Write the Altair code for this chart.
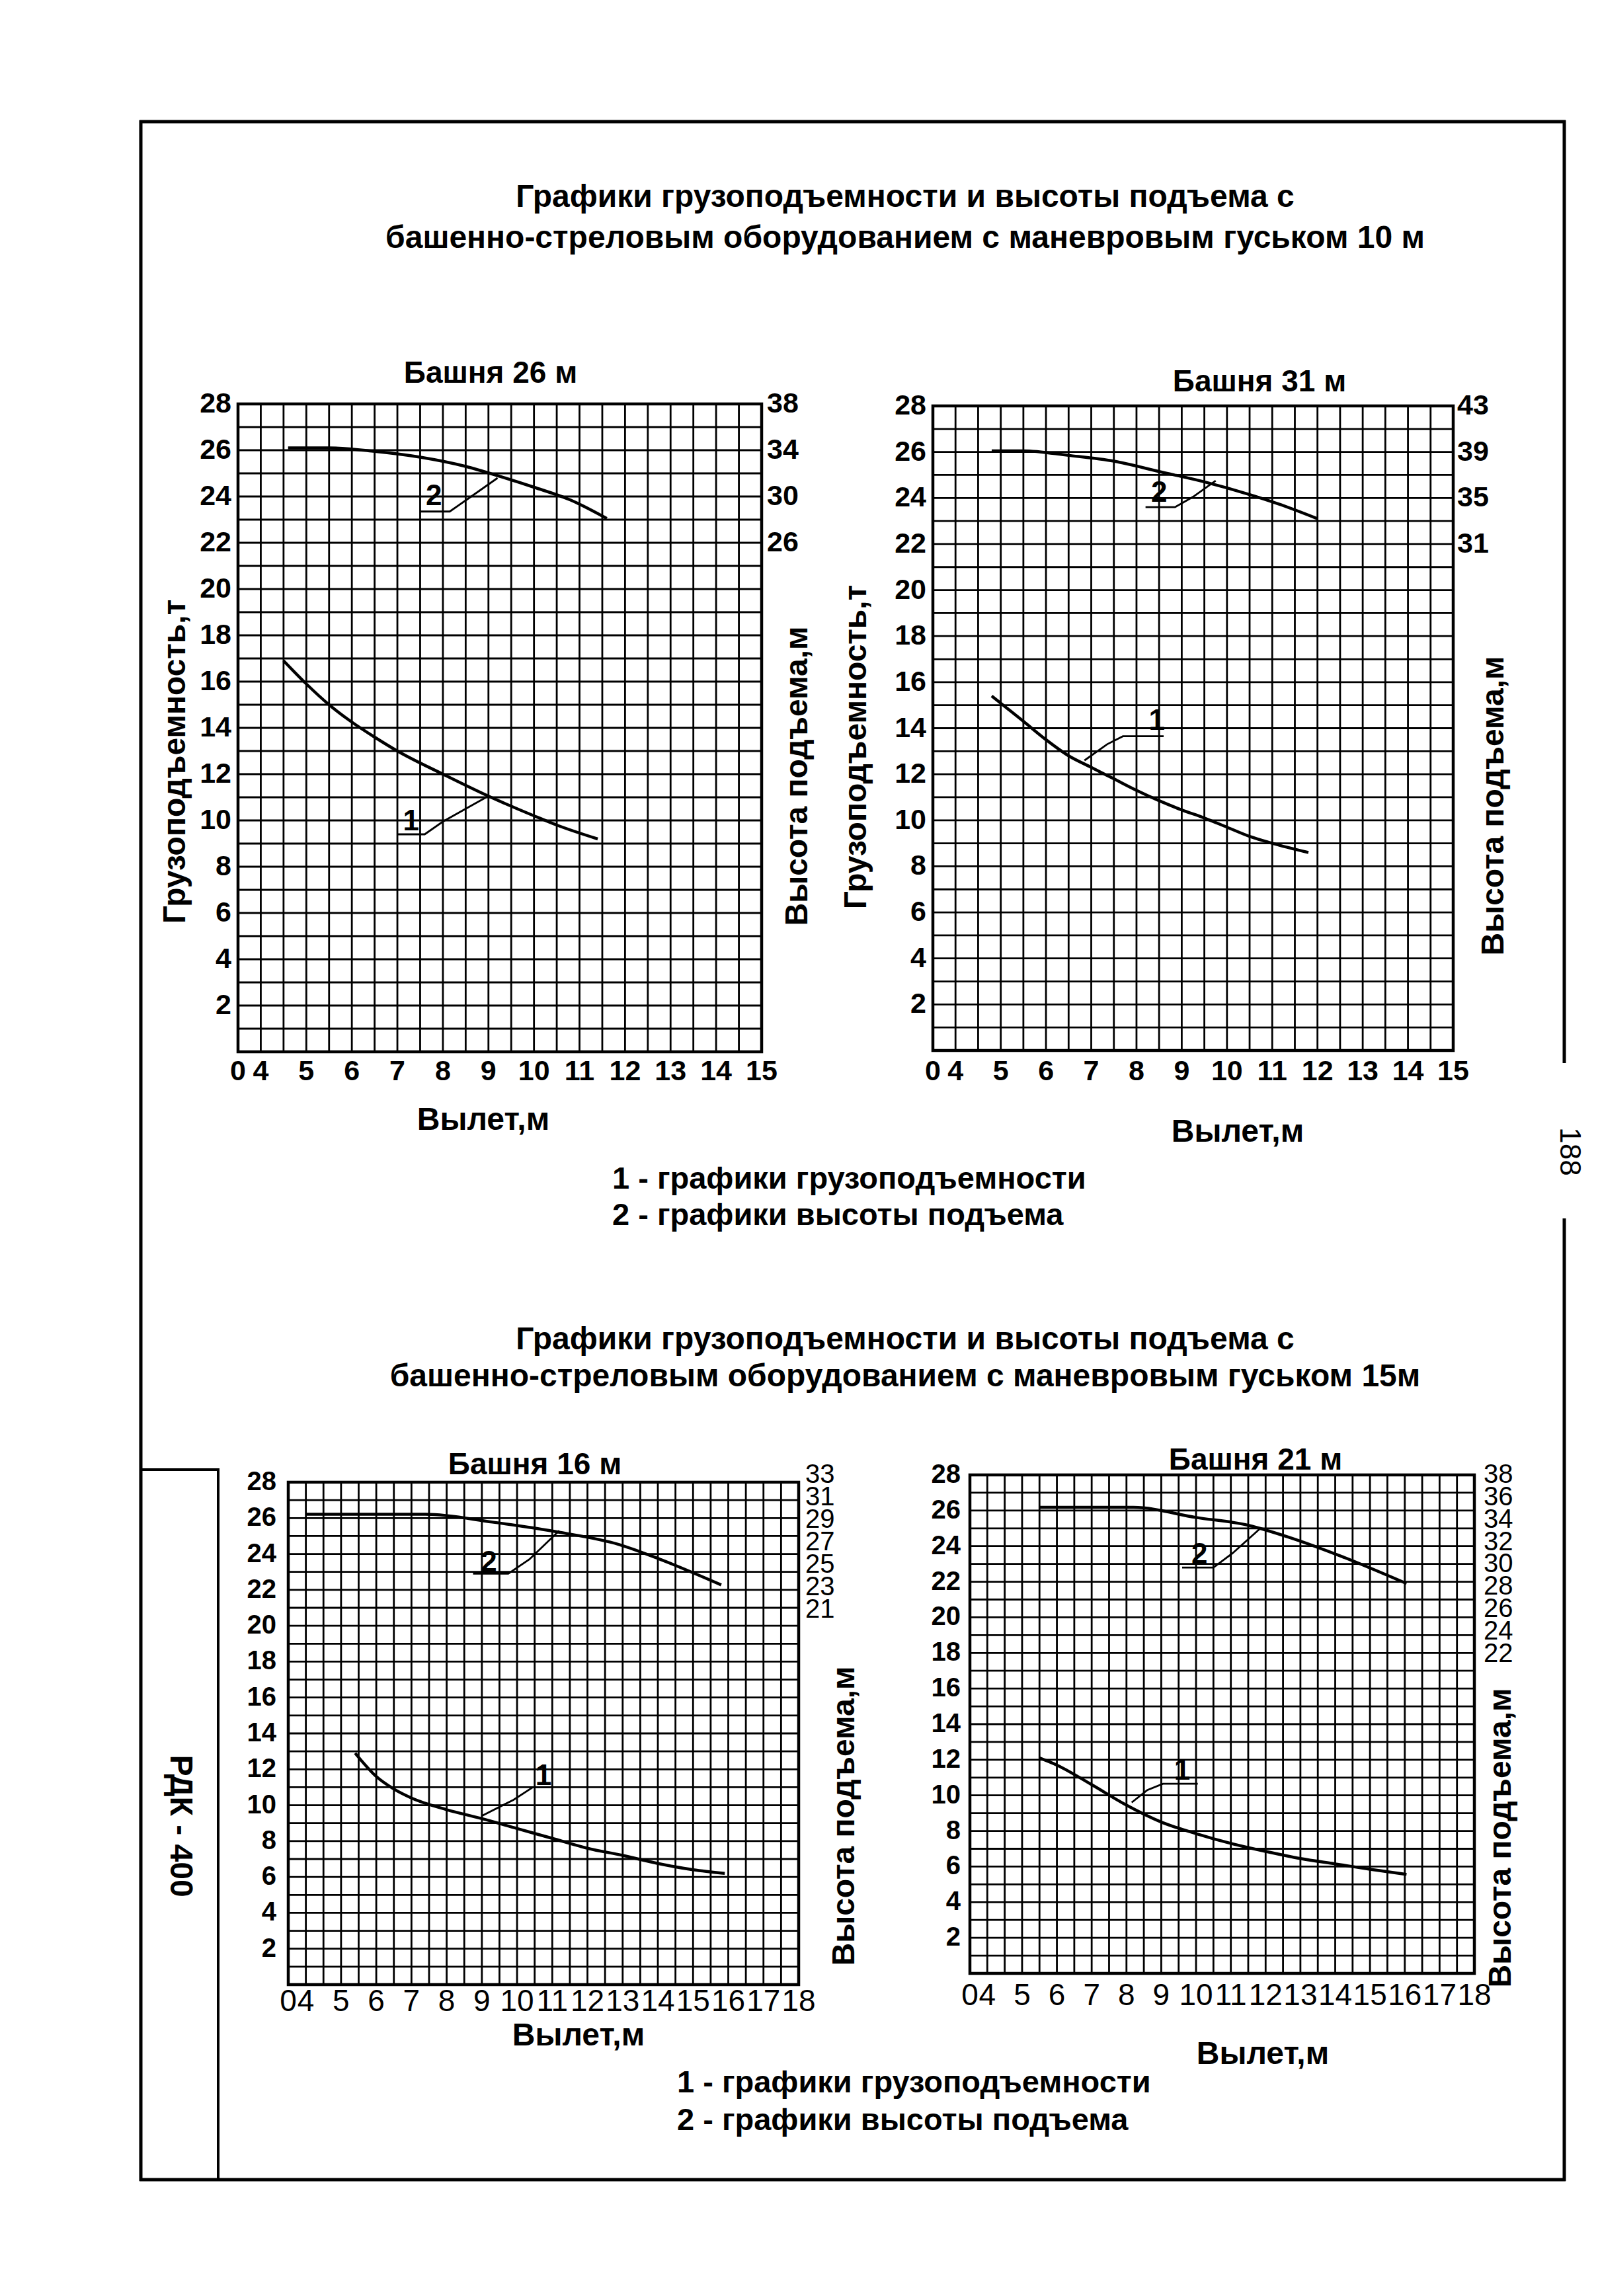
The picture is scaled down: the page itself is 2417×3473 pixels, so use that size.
import altair as alt
import pandas as pd

OFF = 8            # page margin
CW, CH = 2401, 3457
FONT = "Liberation Sans"

# ---------------- data (Вылет, м  ->  грузоподъемность, т / высота подъема, м) ----------------
# Башня 26 м, гусек 10 м
T26_CAP_X = [4.5, 5.0, 5.5, 6.0, 6.5, 7.0, 8.0, 9.0, 10.0, 10.5, 11.4]
T26_CAP_T = [16.9, 15.9, 15.0, 14.25, 13.6, 13.0, 12.0, 11.05, 10.2, 9.8, 9.2]
T26_HGT_X = [4.6, 5.5, 6.5, 7.5, 8.5, 9.2, 10.0, 10.8, 11.6]
T26_HGT_M = [34.2, 34.2, 33.9, 33.4, 32.6, 31.8, 30.8, 29.7, 28.1]
# Башня 31 м, гусек 10 м
T31_CAP_X = [4.8, 5.5, 6.0, 6.5, 7.0, 7.5, 8.0, 8.5, 9.0, 9.5, 10.0, 10.5, 11.0, 11.8]
T31_CAP_T = [15.4, 14.3, 13.5, 12.8, 12.3, 11.8, 11.3, 10.85, 10.45, 10.1, 9.7, 9.3, 9.0, 8.6]
T31_HGT_X = [4.8, 5.5, 6.5, 7.5, 8.5, 9.5, 10.5, 11.2, 12.0]
T31_HGT_M = [39.1, 39.1, 38.7, 38.2, 37.3, 36.4, 35.3, 34.4, 33.2]
# Башня 16 м, гусек 15 м
T16_CAP_X = [5.4, 6.0, 6.5, 7.0, 8.0, 9.0, 10.0, 11.0, 12.0, 13.0, 14.0, 15.0, 15.9]
T16_CAP_T = [12.9, 11.6, 10.9, 10.4, 9.75, 9.25, 8.7, 8.15, 7.6, 7.2, 6.75, 6.4, 6.2]
T16_HGT_X = [4.0, 7.4, 9.3, 11.2, 12.9, 14.05, 15.8]
T16_HGT_M = [29.5, 29.5, 28.8, 27.9, 26.8, 25.5, 23.2]
# Башня 21 м, гусек 15 м
T21_CAP_X = [5.5, 6.0, 7.0, 8.0, 9.0, 10.0, 11.0, 12.0, 13.0, 14.0, 15.0, 16.05]
T21_CAP_T = [12.1, 11.7, 10.6, 9.45, 8.5, 7.85, 7.3, 6.85, 6.45, 6.15, 5.85, 5.56]
T21_HGT_X = [5.5, 8.2, 10.0, 11.5, 12.7, 14.2, 16.05]
T21_HGT_M = [35.1, 35.1, 34.2, 33.5, 32.4, 30.7, 28.3]

# ---------------- tick labels ----------------
TOP_X_TICKS = [0, 4, 5, 6, 7, 8, 9, 10, 11, 12, 13, 14, 15]
BOT_X_TICKS = [0, 4, 5, 6, 7, 8, 9, 10, 11, 12, 13, 14, 15, 16, 17, 18]
T_TICKS = [2, 4, 6, 8, 10, 12, 14, 16, 18, 20, 22, 24, 26, 28]
T26_H_TICKS = [38, 34, 30, 26]
T31_H_TICKS = [43, 39, 35, 31]
T16_H_TICKS = [33, 31, 29, 27, 25, 23, 21]
T21_H_TICKS = [38, 36, 34, 32, 30, 28, 26, 24, 22]
# right-axis calibration: height (m) at t = 0 and t = 28
T26_H_DOMAIN = [-18, 38]
T31_H_DOMAIN = [-13, 43]
T16_H_DOMAIN = [-12.44, 32.36]
T21_H_DOMAIN = [-6.52, 38]

# ---------------- callouts "1" / "2" (Вылет, т) ----------------
T26_NUM = {"1": (7.3, 9.95), "2": (7.8, 24.0)}
T26_LEAD1 = ([7.0, 7.6, 8.0, 8.95], [9.4, 9.4, 9.95, 11.0])
T26_LEAD2 = ([7.5, 8.15, 8.55, 9.2], [23.35, 23.35, 23.9, 24.8])
T31_NUM = {"1": (8.45, 14.3), "2": (8.5, 24.2)}
T31_LEAD1 = ([8.6, 7.7, 7.35, 6.85], [13.65, 13.65, 13.3, 12.6])
T31_LEAD2 = ([8.2, 8.85, 9.25, 9.75], [23.6, 23.6, 24.05, 24.75])
T16_NUM = {"1": (10.75, 11.6), "2": (9.2, 23.5)}
T16_LEAD1 = ([10.95, 10.45, 9.9, 9.0], [11.0, 11.0, 10.3, 9.4])
T16_LEAD2 = ([8.75, 9.75, 10.35, 11.2], [22.9, 22.9, 23.7, 25.3])
T21_NUM = {"1": (9.6, 11.35), "2": (10.1, 23.5)}
T21_LEAD1 = ([10.05, 9.05, 8.6, 8.15], [10.65, 10.65, 10.3, 9.6])
T21_LEAD2 = ([9.6, 10.5, 11.05, 11.85], [22.8, 22.8, 23.6, 25.0])

U_EXPR = "datum.x < 4 ? datum.x / 4 : 1 + 2 * (datum.x - 4)"

PANELS = [
    dict(box=(360, 611, 1152, 1591), ncols=23, xt=TOP_X_TICKS, ht=T26_H_TICKS, hdom=T26_H_DOMAIN,
         cx=T26_CAP_X, cy=T26_CAP_T, hx=T26_HGT_X, hy=T26_HGT_M, num=T26_NUM, l1=T26_LEAD1, l2=T26_LEAD2,
         ydx=-10, xdy=30, hdx=8, tfs=43, xfs=43, xfw="bold", hfs=43, hfw="bold"),
    dict(box=(1411, 614, 2198, 1589), ncols=23, xt=TOP_X_TICKS, ht=T31_H_TICKS, hdom=T31_H_DOMAIN,
         cx=T31_CAP_X, cy=T31_CAP_T, hx=T31_HGT_X, hy=T31_HGT_M, num=T31_NUM, l1=T31_LEAD1, l2=T31_LEAD2,
         ydx=-10, xdy=32, hdx=6, tfs=43, xfs=43, xfw="bold", hfs=43, hfw="bold"),
    dict(box=(436, 2242, 1208, 3002), ncols=29, xt=BOT_X_TICKS, ht=T16_H_TICKS, hdom=T16_H_DOMAIN,
         cx=T16_CAP_X, cy=T16_CAP_T, hx=T16_HGT_X, hy=T16_HGT_M, num=T16_NUM, l1=T16_LEAD1, l2=T16_LEAD2,
         ydx=-18, xdy=26, hdx=10, tfs=40, xfs=46, xfw="normal", hfs=40, hfw="normal"),
    dict(box=(1467, 2231, 2230, 2985), ncols=29, xt=BOT_X_TICKS, ht=T21_H_TICKS, hdom=T21_H_DOMAIN,
         cx=T21_CAP_X, cy=T21_CAP_T, hx=T21_HGT_X, hy=T21_HGT_M, num=T21_NUM, l1=T21_LEAD1, l2=T21_LEAD2,
         ydx=-14, xdy=34, hdx=14, tfs=40, xfs=46, xfw="normal", hfs=40, hfw="normal"),
]


def panel_layers(p):
    l, t, r, b = p["box"]
    n = p["ncols"]
    xs = alt.Scale(domain=[0, n], range=[l - OFF, r - OFF], nice=False, zero=False)
    ys = alt.Scale(domain=[0, 28], range=[b - OFF, t - OFF], nice=False, zero=False)
    hs = alt.Scale(domain=p["hdom"], range=[b - OFF, t - OFF], nice=False, zero=False)
    X = lambda f: alt.X(f, scale=xs, axis=None)
    Y = lambda f: alt.Y(f, scale=ys, axis=None)
    HY = lambda f: alt.Y(f, scale=hs, axis=None)
    out = []
    # grid
    vg = pd.DataFrame({"u": list(range(n + 1)), "y0": 0, "y1": 28})
    out.append(alt.Chart(vg).mark_rule(color="black", strokeWidth=2.8).encode(x=X("u:Q"), y=Y("y0:Q"), y2="y1:Q"))
    hg = pd.DataFrame({"t": list(range(29)), "u0": 0, "u1": n})
    out.append(alt.Chart(hg).mark_rule(color="black", strokeWidth=2.8).encode(y=Y("t:Q"), x=X("u0:Q"), x2="u1:Q"))
    bd = pd.DataFrame({"u0": [0], "u1": [n], "y0": [0], "y1": [28]})
    out.append(alt.Chart(bd).mark_rect(fillOpacity=0, stroke="black", strokeWidth=4.5)
               .encode(x=X("u0:Q"), x2="u1:Q", y=Y("y0:Q"), y2="y1:Q"))
    # curve 1 (capacity, left axis)
    c1 = pd.DataFrame({"x": p["cx"], "v": p["cy"]})
    out.append(alt.Chart(c1).transform_calculate(u=U_EXPR)
               .mark_line(color="black", strokeWidth=4.5, interpolate="monotone")
               .encode(x=X("u:Q"), y=Y("v:Q"), order="x:Q"))
    # curve 2 (lift height, right axis)
    c2 = pd.DataFrame({"x": p["hx"], "v": p["hy"]})
    out.append(alt.Chart(c2).transform_calculate(u=U_EXPR)
               .mark_line(color="black", strokeWidth=4.5, interpolate="monotone")
               .encode(x=X("u:Q"), y=HY("v:Q"), order="x:Q"))
    # callout leaders
    rows = []
    for k, (lx, ly) in (("1", p["l1"]), ("2", p["l2"])):
        for i, (a, c) in enumerate(zip(lx, ly)):
            rows.append({"k": k, "i": i, "x": a, "v": c})
    out.append(alt.Chart(pd.DataFrame(rows)).transform_calculate(u=U_EXPR)
               .mark_line(color="black", strokeWidth=2.8)
               .encode(x=X("u:Q"), y=Y("v:Q"), detail="k:N", order="i:Q"))
    nd = pd.DataFrame({"lab": list(p["num"].keys()),
                       "x": [v[0] for v in p["num"].values()],
                       "v": [v[1] for v in p["num"].values()]})
    out.append(alt.Chart(nd).transform_calculate(u=U_EXPR)
               .mark_text(font=FONT, fontSize=44, fontWeight="bold", baseline="middle")
               .encode(x=X("u:Q"), y=Y("v:Q"), text="lab:N"))
    # tick labels
    xl = pd.DataFrame({"x": p["xt"], "lab": [str(v) for v in p["xt"]], "y0": 0})
    out.append(alt.Chart(xl).transform_calculate(u=U_EXPR)
               .mark_text(font=FONT, fontSize=p["xfs"], fontWeight=p["xfw"], baseline="middle", dy=p["xdy"])
               .encode(x=X("u:Q"), y=Y("y0:Q"), text="lab:N"))
    yl = pd.DataFrame({"v": T_TICKS, "lab": [str(v) for v in T_TICKS], "u0": 0})
    out.append(alt.Chart(yl).mark_text(font=FONT, fontSize=p["tfs"], fontWeight="bold", align="right",
                                       baseline="middle", dx=p["ydx"])
               .encode(x=X("u0:Q"), y=Y("v:Q"), text="lab:N"))
    rl = pd.DataFrame({"v": p["ht"], "lab": [str(v) for v in p["ht"]], "u1": n})
    out.append(alt.Chart(rl).mark_text(font=FONT, fontSize=p["hfs"], fontWeight=p["hfw"], align="left",
                                       baseline="middle", dx=p["hdx"])
               .encode(x=X("u1:Q"), y=HY("v:Q"), text="lab:N"))
    return out


ONE = pd.DataFrame({"a": [0]})


def text(s, x, y, size=48, weight="bold", align="center", angle=0):
    kw = dict(font=FONT, fontSize=size, fontWeight=weight, align=align, baseline="middle", text=s)
    if angle:
        kw["angle"] = angle
    return alt.Chart(ONE).mark_text(**kw).encode(x=alt.value(x - OFF), y=alt.value(y - OFF))


def vline(x, y1, y2, w=5):
    return alt.Chart(ONE).mark_rule(color="black", strokeWidth=w).encode(
        x=alt.value(x - OFF), y=alt.value(y1 - OFF), y2=alt.value(y2 - OFF))


def hline(y, x1, x2, w=5):
    return alt.Chart(ONE).mark_rule(color="black", strokeWidth=w).encode(
        y=alt.value(y - OFF), x=alt.value(x1 - OFF), x2=alt.value(x2 - OFF))


T1 = "Графики грузоподъемности и высоты подъема  с"
T2a = "башенно-стреловым оборудованием с маневровым гуськом 10 м"
T2b = "башенно-стреловым оборудованием с маневровым гуськом 15м"
L1 = "1 - графики грузоподъемности"
L2 = "2 - графики высоты подъема"
YT = "Грузоподъемность,т"
HT = "Высота подъема,м"
XT = "Вылет,м"

deco = [
    # page frame
    hline(184, 211, 2368), vline(213, 182, 3299), hline(3297, 211, 2368),
    vline(2366, 182, 1608), vline(2366, 1843, 3299),
    hline(2223, 213, 330, 4), vline(330, 2221, 3297, 4),
    text("188", 2373, 1742, 44, "normal", angle=90),
    text("РДК - 400", 272, 2762, 48, "bold", angle=90),
    # titles
    text(T1, 1369, 299, 48), text(T2a, 1369, 361, 48),
    text(T1, 1369, 2027, 48), text(T2b, 1369, 2083, 48),
    text("Башня  26 м", 742, 565, 46), text("Башня  31 м", 1905, 578, 46),
    text("Башня 16 м", 809, 2216, 46), text("Башня 21 м", 1899, 2209, 46),
    # axis titles
    text(YT, 266, 1152, 48, angle=270), text(HT, 1207, 1174, 48, angle=270),
    text(YT, 1296, 1130, 48, angle=270), text(HT, 2260, 1219, 48, angle=270),
    text(HT, 1278, 2747, 48, angle=270), text(HT, 2271, 2780, 48, angle=270),
    text(XT, 731, 1695, 48), text(XT, 1872, 1713, 48),
    text(XT, 875, 3080, 48), text(XT, 1910, 3108, 48),
    # legends
    text(L1, 926, 1784, 47, align="left"), text(L2, 926, 1839, 47, align="left"),
    text(L1, 1024, 3151, 47, align="left"), text(L2, 1024, 3208, 47, align="left"),
]

layers = []
for p in PANELS:
    layers += panel_layers(p)
layers += deco

chart = (alt.layer(*layers)
         .resolve_scale(x="independent", y="independent")
         .properties(width=CW, height=CH, padding=0, autosize="none", background="white")
         .configure_view(stroke=None))

chart.save("out.html", embed_options={"renderer": "svg", "actions": False})
